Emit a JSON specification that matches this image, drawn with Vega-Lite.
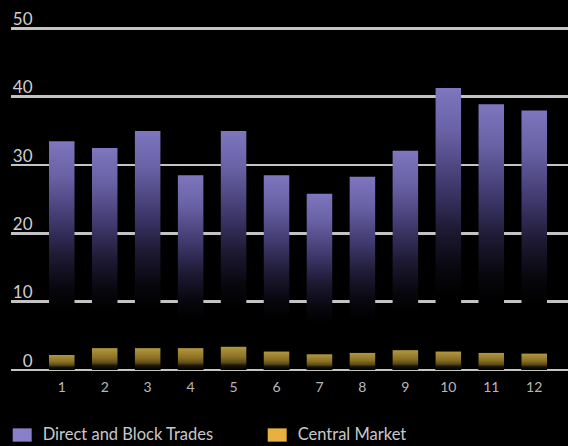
{
  "$schema": "https://vega.github.io/schema/vega-lite/v6.json",
  "autosize": {"type": "none"},
  "padding": {"left": 11, "top": 28.5, "right": 0, "bottom": 76},
  "width": 557,
  "height": 341.5,
  "background": "#000000",
  "config": {
    "view": {"stroke": null},
    "font": "Lato"
  },
  "data": {
    "values": [
      {"month": "1", "series": "Direct and Block Trades", "value": 33.5},
      {"month": "2", "series": "Direct and Block Trades", "value": 32.5},
      {"month": "3", "series": "Direct and Block Trades", "value": 35.0},
      {"month": "4", "series": "Direct and Block Trades", "value": 28.5},
      {"month": "5", "series": "Direct and Block Trades", "value": 35.0},
      {"month": "6", "series": "Direct and Block Trades", "value": 28.5},
      {"month": "7", "series": "Direct and Block Trades", "value": 25.8},
      {"month": "8", "series": "Direct and Block Trades", "value": 28.3},
      {"month": "9", "series": "Direct and Block Trades", "value": 32.1},
      {"month": "10", "series": "Direct and Block Trades", "value": 41.3},
      {"month": "11", "series": "Direct and Block Trades", "value": 38.9},
      {"month": "12", "series": "Direct and Block Trades", "value": 38.0},
      {"month": "1", "series": "Central Market", "value": 2.2},
      {"month": "2", "series": "Central Market", "value": 3.2},
      {"month": "3", "series": "Central Market", "value": 3.2},
      {"month": "4", "series": "Central Market", "value": 3.2},
      {"month": "5", "series": "Central Market", "value": 3.4},
      {"month": "6", "series": "Central Market", "value": 2.7},
      {"month": "7", "series": "Central Market", "value": 2.3},
      {"month": "8", "series": "Central Market", "value": 2.5},
      {"month": "9", "series": "Central Market", "value": 2.9},
      {"month": "10", "series": "Central Market", "value": 2.7},
      {"month": "11", "series": "Central Market", "value": 2.5},
      {"month": "12", "series": "Central Market", "value": 2.4}
    ]
  },
  "layer": [
    {"mark": {"type": "rule", "color": "#c4c4c4", "strokeWidth": 2}, "encoding": {"y": {"datum": 0, "type": "quantitative", "title": null}}},
    {"mark": {"type": "rule", "color": "#c4c4c4", "strokeWidth": 2}, "encoding": {"y": {"datum": 10, "type": "quantitative", "title": null}}},
    {"mark": {"type": "rule", "color": "#c4c4c4", "strokeWidth": 2}, "encoding": {"y": {"datum": 20, "type": "quantitative", "title": null}}},
    {"mark": {"type": "rule", "color": "#c4c4c4", "strokeWidth": 2}, "encoding": {"y": {"datum": 30, "type": "quantitative", "title": null}}},
    {"mark": {"type": "rule", "color": "#c4c4c4", "strokeWidth": 2}, "encoding": {"y": {"datum": 40, "type": "quantitative", "title": null}}},
    {"mark": {"type": "rule", "color": "#c4c4c4", "strokeWidth": 2}, "encoding": {"y": {"datum": 50, "type": "quantitative", "title": null}}},
    {
      "mark": {"type": "bar", "width": {"band": 0.5}, "yOffset": 4},
      "encoding": {
        "x": {
          "field": "month", "type": "ordinal", "sort": null,
          "scale": {"paddingInner": 0.406, "paddingOuter": 0.687, "align": 0.644},
          "axis": {
            "title": null, "labelAngle": 0, "domain": false, "ticks": false, "tickSize": 0,
            "labelPadding": 10, "labelFontSize": 14, "labelColor": "#b8b8bc", "labelFont": "Lato"
          }
        },
        "y": {
          "field": "value", "type": "quantitative", "stack": null,
          "scale": {"domain": [0, 50], "nice": false, "zero": true},
          "axis": {
            "title": null, "values": [0, 10, 20, 30, 40, 50], "domain": false, "ticks": false, "tickSize": 0,
            "grid": false,
            "labelAlign": "right", "labelBaseline": "alphabetic", "labelPadding": -21, "labelOffset": -4,
            "labelFontSize": 17, "labelColor": "#cfcfd2", "labelFont": "Lato", "labelBound": false, "labelOverlap": false
          }
        },
        "color": {
          "field": "series", "type": "nominal",
          "scale": {"domain": ["Direct and Block Trades", "Central Market"], "range": ["#8880c8", "#e8b040"]},
          "legend": {
            "title": null, "orient": "none", "legendX": 1.7, "legendY": 397, "direction": "horizontal",
            "symbolType": "M-1,-0.7H1V0.7H-1Z", "symbolSize": 361, "symbolStrokeWidth": 0,
            "labelFontSize": 16.5, "labelColor": "#c8c8cc", "labelFont": "Lato", "labelOffset": 11,
            "columnPadding": 54, "padding": 0, "labelLimit": 300
          }
        }
      }
    },
    {
      "transform": [{"filter": "datum.series === 'Direct and Block Trades'"}],
      "mark": {
        "type": "bar",
        "color": {
          "gradient": "linear", "x1": 0, "y1": 0, "x2": 0, "y2": 1,
          "stops": [
            {"offset": 0, "color": "#7e76be"},
            {"offset": 0.15, "color": "#6a62a6"},
            {"offset": 0.35, "color": "#3e386c"},
            {"offset": 0.5, "color": "#1e1a34"},
            {"offset": 0.64, "color": "#08070e"},
            {"offset": 0.74, "color": "#000000"},
            {"offset": 1, "color": "#000000"}
          ]
        }
      },
      "encoding": {
        "x": {"field": "month", "type": "ordinal", "sort": null},
        "y": {"field": "value", "type": "quantitative", "stack": null}
      }
    },
    {
      "transform": [{"filter": "datum.series === 'Central Market'"}],
      "mark": {
        "type": "bar",
        "color": {
          "gradient": "linear", "x1": 0, "y1": 0, "x2": 0, "y2": 1,
          "stops": [
            {"offset": 0, "color": "#b39840"},
            {"offset": 0.45, "color": "#8a7024"},
            {"offset": 0.68, "color": "#5a4a18"},
            {"offset": 0.8, "color": "#1a1508"},
            {"offset": 1, "color": "#000000"}
          ]
        }
      },
      "encoding": {
        "x": {"field": "month", "type": "ordinal", "sort": null},
        "y": {"field": "value", "type": "quantitative", "stack": null}
      }
    }
  ]
}
